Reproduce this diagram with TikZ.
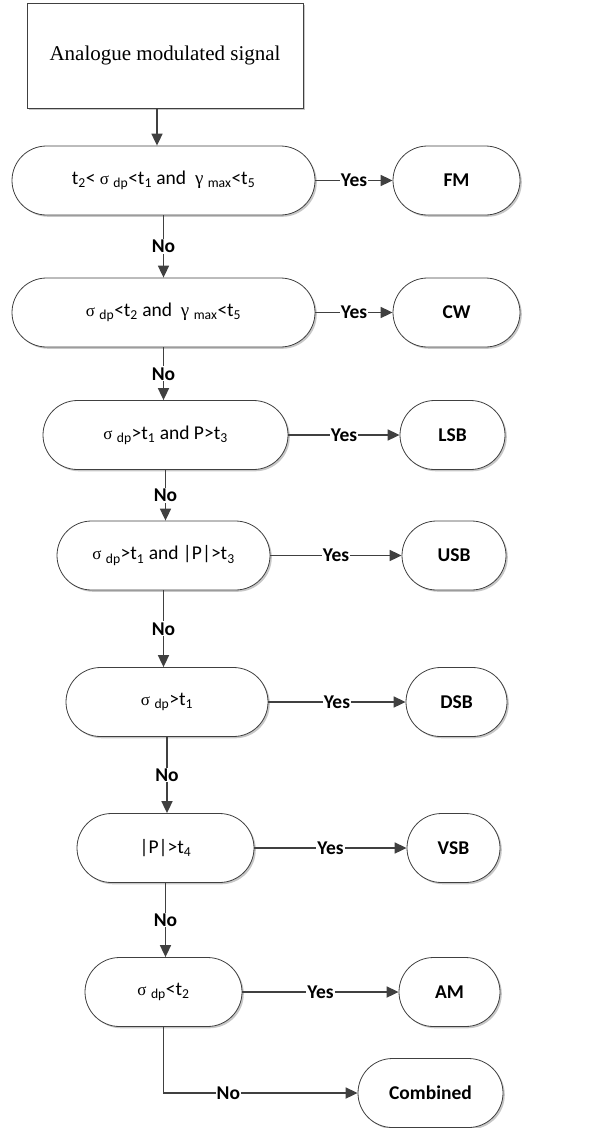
\documentclass[tikz,border=0pt]{standalone}
\usepackage{fontspec}
\setmainfont{Carlito}
\newfontfamily\tnr{Liberation Serif}
\usetikzlibrary{arrows.meta,shadows}
\definecolor{lc}{HTML}{404040}
\newcommand{\sg}{{\tnr\fontsize{17}{20}\selectfont σ}}
\newcommand{\gm}{{\tnr\fontsize{19}{20}\selectfont γ}}
\begin{document}
\begin{tikzpicture}[x=1pt,y=-1pt,
  every node/.style={font=\fontsize{19.5}{23}\selectfont},
  shad/.style={drop shadow={shadow xshift=1.8pt,shadow yshift=-1.8pt,fill=black,opacity=0.22}},
  startbox/.style={draw=lc, line width=0.8pt, fill=white, shad, minimum width=276pt, minimum height=105pt, inner sep=0pt, font=\tnr\fontsize{21}{25}\selectfont},
  decision/.style={draw=lc, line width=0.8pt, fill=white, shad, rounded corners=34.5pt, minimum height=69pt, inner sep=0pt},
  result/.style={draw=lc, line width=0.8pt, fill=white, shad, rounded corners=34.5pt, minimum height=69pt, inner sep=0pt, font=\bfseries\fontsize{19.5}{23}\selectfont},
  conn/.style={draw=lc, line width=1.7pt, -{Triangle[length=12pt,width=11pt]}},
  lbl/.style={fill=white, inner sep=1pt, font=\bfseries\fontsize{19.5}{23}\selectfont, text=black},
]
\useasboundingbox (0,0) rectangle (589,1128);

\node[startbox] (start) at (165,55.5) {Analogue modulated signal};

\node[decision, minimum width=303pt] (d1) at (163.5,180.5) {t\textsubscript{2}< \sg{} \textsubscript{dp}<t\textsubscript{1} and~ \gm{} \textsubscript{max}<t\textsubscript{5}};
\node[decision, minimum width=303pt] (d2) at (163.5,312.5) {\sg{} \textsubscript{dp}<t\textsubscript{2} and~ \gm{} \textsubscript{max}<t\textsubscript{5}};
\node[decision, minimum width=245pt] (d3) at (165.5,435) {\sg{} \textsubscript{dp}>t\textsubscript{1} and P>t\textsubscript{3}};
\node[decision, minimum width=213pt] (d4) at (163.5,555.5) {\sg{} \textsubscript{dp}>t\textsubscript{1} and |P|>t\textsubscript{3}};
\node[decision, minimum width=202pt] (d5) at (167,702) {\sg{} \textsubscript{dp}>t\textsubscript{1}};
\node[decision, minimum width=177pt] (d6) at (165.5,848) {|P|>t\textsubscript{4}};
\node[decision, minimum width=157pt] (d7) at (163.5,992) {\sg{} \textsubscript{dp}<t\textsubscript{2}};

\node[result, minimum width=127pt] (fm) at (456.5,180.5) {FM};
\node[result, minimum width=127pt] (cw) at (456.5,312.5) {CW};
\node[result, minimum width=105pt] (lsb) at (452.5,435) {LSB};
\node[result, minimum width=104pt] (usb) at (454,555.5) {USB};
\node[result, minimum width=101pt] (dsb) at (456.5,702) {DSB};
\node[result, minimum width=93pt] (vsb) at (453.5,848) {VSB};
\node[result, minimum width=101pt] (am) at (449.5,992) {AM};
\node[result, minimum width=145pt] (comb) at (430.5,1093) {Combined};

\draw[conn] ([xshift=-8pt]start.south) -- ([xshift=-8pt]start.south |- d1.north);

\foreach \a/\b in {d1/fm,d2/cw,d3/lsb,d4/usb,d5/dsb,d6/vsb,d7/am}{
  \draw[conn] (\a.east) -- (\b.west) node[lbl, midway] {Yes};
}
\foreach \a/\b in {d1/d2,d2/d3,d3/d4,d4/d5,d5/d6,d6/d7}{
  \draw[conn] (\a.south) -- (\a.south |- \b.north) node[lbl, midway] {No};
}
\draw[conn] (d7.south) |- (comb.west) node[lbl, pos=0.667] {No};
\end{tikzpicture}
\end{document}
